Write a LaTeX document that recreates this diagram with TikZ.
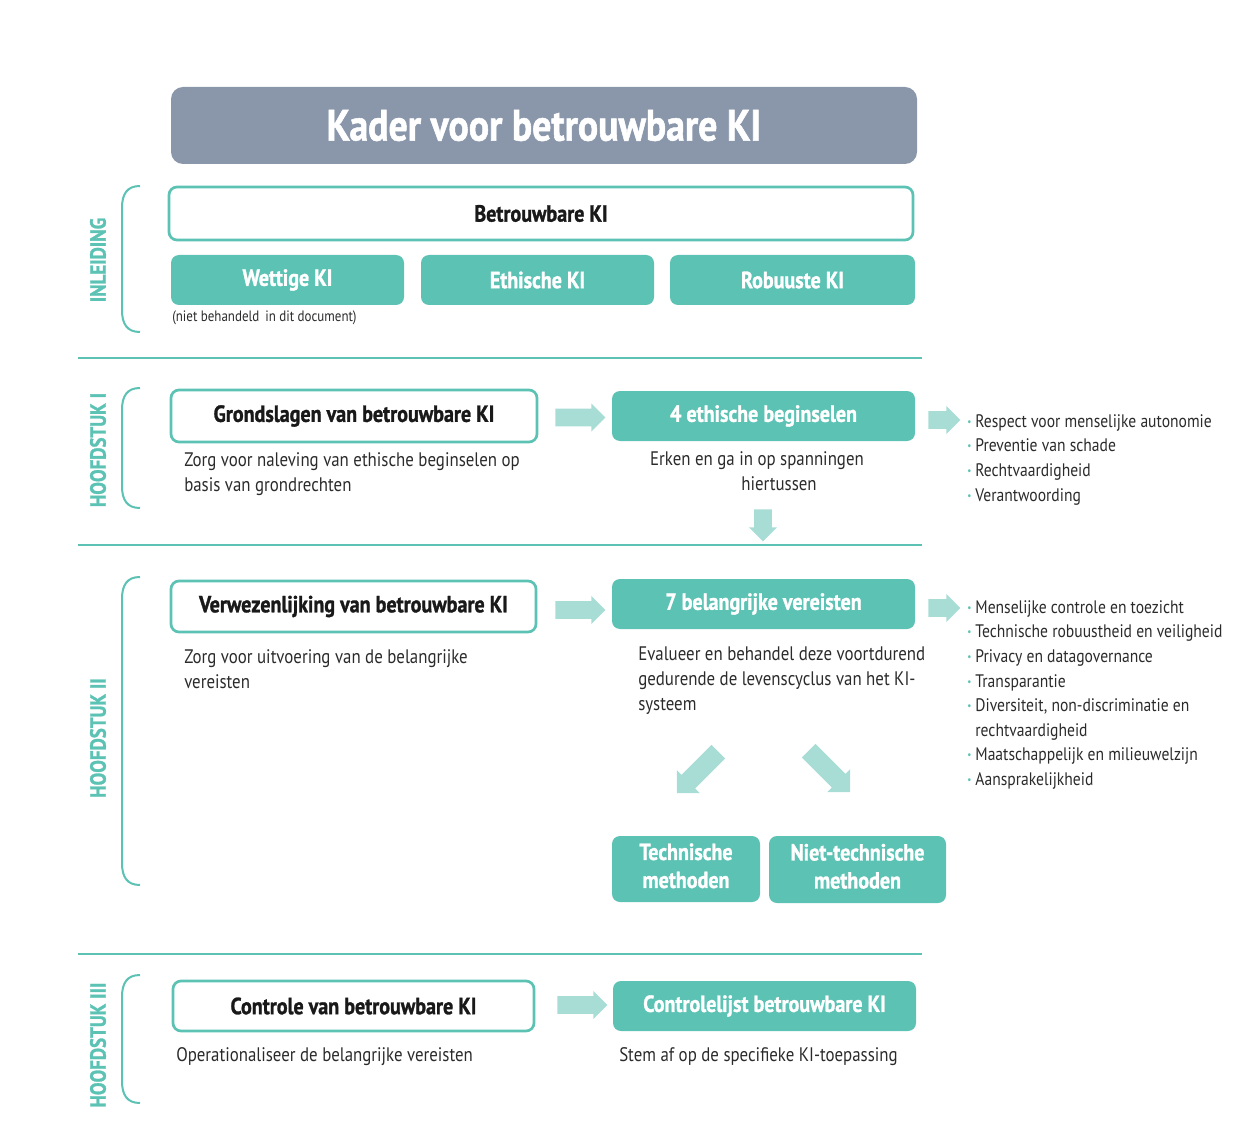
\documentclass[tikz,border=0pt]{standalone}
\usepackage{fontspec}
\setmainfont{PT Sans}[FakeStretch=0.86, BoldFeatures={FakeBold=1.2}]
\usetikzlibrary{shapes.arrows}
\definecolor{tealc}{HTML}{5CC2B4}
\definecolor{arrowc}{HTML}{A8DDD6}
\definecolor{titlec}{HTML}{8A97AB}
\definecolor{txt}{HTML}{2B2B2B}
\newcommand{\bul}{{\color{tealc}\fontsize{8}{8}\selectfont\raisebox{1.5pt}{•}}}
\begin{document}
\begin{tikzpicture}[x=0.75pt,y=-0.75pt,
  titlebox/.style={fill=titlec, rounded corners=9pt, text=white, font=\bfseries\fontsize{33}{36}\selectfont, minimum width=559.5pt, minimum height=57.75pt, inner sep=0},
  outlinebox/.style={draw=tealc, line width=2pt, fill=white, rounded corners=6pt, text=black!90, font=\bfseries\fontsize{17.5}{20}\selectfont, inner sep=0},
  fillbox/.style={fill=tealc, rounded corners=6pt, text=white, font=\bfseries\fontsize{17.5}{20}\selectfont, inner sep=0, align=center},
  body/.style={text=txt, font=\fontsize{14.7}{18.75}\selectfont, align=left, inner sep=0, anchor=north west},
  blockarrow/.style={single arrow, fill=arrowc, draw=none, single arrow head extend=4pt, inner xsep=0pt, inner ysep=6.4pt, minimum height=37.5pt},
  bracket/.style={draw=tealc, line width=1.5pt},
  sep/.style={draw=tealc, line width=2pt},
  sidelabel/.style={text=tealc, font=\bfseries\fontsize{16.5}{17}\selectfont, rotate=90, inner sep=0},
]
\useasboundingbox (0,0) rectangle (1260,1141);

% title
\node[titlebox] (title) at (544,125.5) {Kader voor betrouwbare KI};

% ---------- Inleiding
\draw[bracket] (140,186) .. controls (127,186) and (122,194) .. (122,208) -- (122,310) .. controls (122,324) and (127,332) .. (140,332);
\node[sidelabel] (lblinl) at (98,260) {INLEIDING};
\node[outlinebox, minimum width=558pt, minimum height=39.75pt] (betr) at (541,213.5) {Betrouwbare KI};
\node[fillbox, minimum width=174.75pt, minimum height=37.5pt] (wettig) at (287.5,280) {Wettige KI};
\node[fillbox, minimum width=174.75pt, minimum height=37.5pt] (ethisch) at (537.5,280) {Ethische KI};
\node[fillbox, minimum width=183.75pt, minimum height=37.5pt] (robuust) at (792.5,280) {Robuuste KI};
\node[text=txt, font=\fontsize{11.3}{13}\selectfont, inner sep=0, anchor=west] (niet) at (172,318) {(niet behandeld\, in dit document)};
\coordinate (s1a) at (78,358); \coordinate (s1b) at (922,358);
\draw[sep] (s1a) -- (s1b);

% ---------- Hoofdstuk I
\draw[bracket] (140,388) .. controls (127,388) and (122,396) .. (122,410) -- (122,486) .. controls (122,500) and (127,508) .. (140,508);
\node[sidelabel] (lbl1) at (98,450) {HOOFDSTUK I};
\node[outlinebox, minimum width=274.5pt, minimum height=39pt] (grond) at (354,416) {Grondslagen van betrouwbare KI};
\node[body] (grondtxt) at (184,452) {Zorg voor naleving van ethische beginselen op\\basis van grondrechten};
\node[fillbox, minimum width=227.25pt, minimum height=37.5pt] (vier) at (763.5,416) {4 ethische beginselen};
\node[body, anchor=north, align=center] (viertxt) at (757,451) {Erken en ga in op spanningen\\\hspace*{33pt}hiertussen};
\node[blockarrow] (a1) at (576,417.5) {};
\node[blockarrow, minimum height=24pt, rotate=-90] (a1down) at (763,521) {};
\node[blockarrow, minimum height=24pt] (a1r) at (940,420) {};
\node[body, font=\fontsize{13.6}{18.4}\selectfont] (list1) at (967,410) {%
\begin{tabular}{@{}l@{\hspace{3pt}}l@{}}
\bul & Respect voor menselijke autonomie\\
\bul & Preventie van schade\\
\bul & Rechtvaardigheid\\
\bul & Verantwoording
\end{tabular}};
\coordinate (s2a) at (78,545); \coordinate (s2b) at (922,545);
\draw[sep] (s2a) -- (s2b);

% ---------- Hoofdstuk II
\draw[bracket] (140,577) .. controls (127,577) and (122,585) .. (122,599) -- (122,863) .. controls (122,877) and (127,885) .. (140,885);
\node[sidelabel] (lbl2) at (98,738) {HOOFDSTUK II};
\node[outlinebox, minimum width=273.75pt, minimum height=38.25pt] (verw) at (353.5,606.5) {Verwezenlijking van betrouwbare KI};
\node[body] (verwtxt) at (184,649) {Zorg voor uitvoering van de belangrijke\\vereisten};
\node[fillbox, minimum width=227.25pt, minimum height=37.5pt] (zeven) at (763.5,604) {7 belangrijke vereisten};
\node[body] (zeventxt) at (638,647) {Evalueer en behandel deze voortdurend\\gedurende de levenscyclus van het KI-\\systeem};
\node[blockarrow] (a2) at (576,610) {};
\node[blockarrow, minimum height=24pt] (a2r) at (940,608) {};
\node[body, font=\fontsize{13.6}{18.4}\selectfont] (list2) at (967,596) {%
\begin{tabular}{@{}l@{\hspace{3pt}}l@{}}
\bul & Menselijke controle en toezicht\\
\bul & Technische robuustheid en veiligheid\\
\bul & Privacy en datagovernance\\
\bul & Transparantie\\
\bul & Diversiteit, non-discriminatie en\\
 & rechtvaardigheid\\
\bul & Maatschappelijk en milieuwelzijn\\
\bul & Aansprakelijkheid
\end{tabular}};
\node[blockarrow, minimum height=44pt, inner ysep=7pt, single arrow head extend=5pt, rotate=-135] (adl) at (701,769) {};
\node[blockarrow, minimum height=44pt, inner ysep=7pt, single arrow head extend=5pt, rotate=-45] (adr) at (826,768) {};
\node[fillbox, minimum width=111pt, minimum height=49.5pt, font=\bfseries\fontsize{17.5}{21}\selectfont] (tech) at (686,869) {Technische\\methoden\rule[-5pt]{0pt}{5pt}};
\node[fillbox, minimum width=132.75pt, minimum height=50.25pt, font=\bfseries\fontsize{17.5}{21}\selectfont] (niettech) at (857.5,869.5) {Niet-technische\\methoden\rule[-5pt]{0pt}{5pt}};
\coordinate (s3a) at (78,954); \coordinate (s3b) at (922,954);
\draw[sep] (s3a) -- (s3b);

% ---------- Hoofdstuk III
\draw[bracket] (140,975) .. controls (127,975) and (122,983) .. (122,997) -- (122,1081) .. controls (122,1095) and (127,1103) .. (140,1103);
\node[sidelabel] (lbl3) at (98,1045) {HOOFDSTUK III};
\node[outlinebox, minimum width=270.75pt, minimum height=37.5pt] (contr) at (353.5,1006) {Controle van betrouwbare KI};
\node[body] (contrtxt) at (176,1047) {Operationaliseer de belangrijke vereisten};
\node[blockarrow] (a3) at (578,1005) {};
\node[fillbox, minimum width=227.25pt, minimum height=37.5pt] (lijst) at (764.5,1006) {Controlelijst betrouwbare KI};
\node[body] (lijsttxt) at (619,1047) {Stem af op de specifieke KI-toepassing};
\end{tikzpicture}
\end{document}
